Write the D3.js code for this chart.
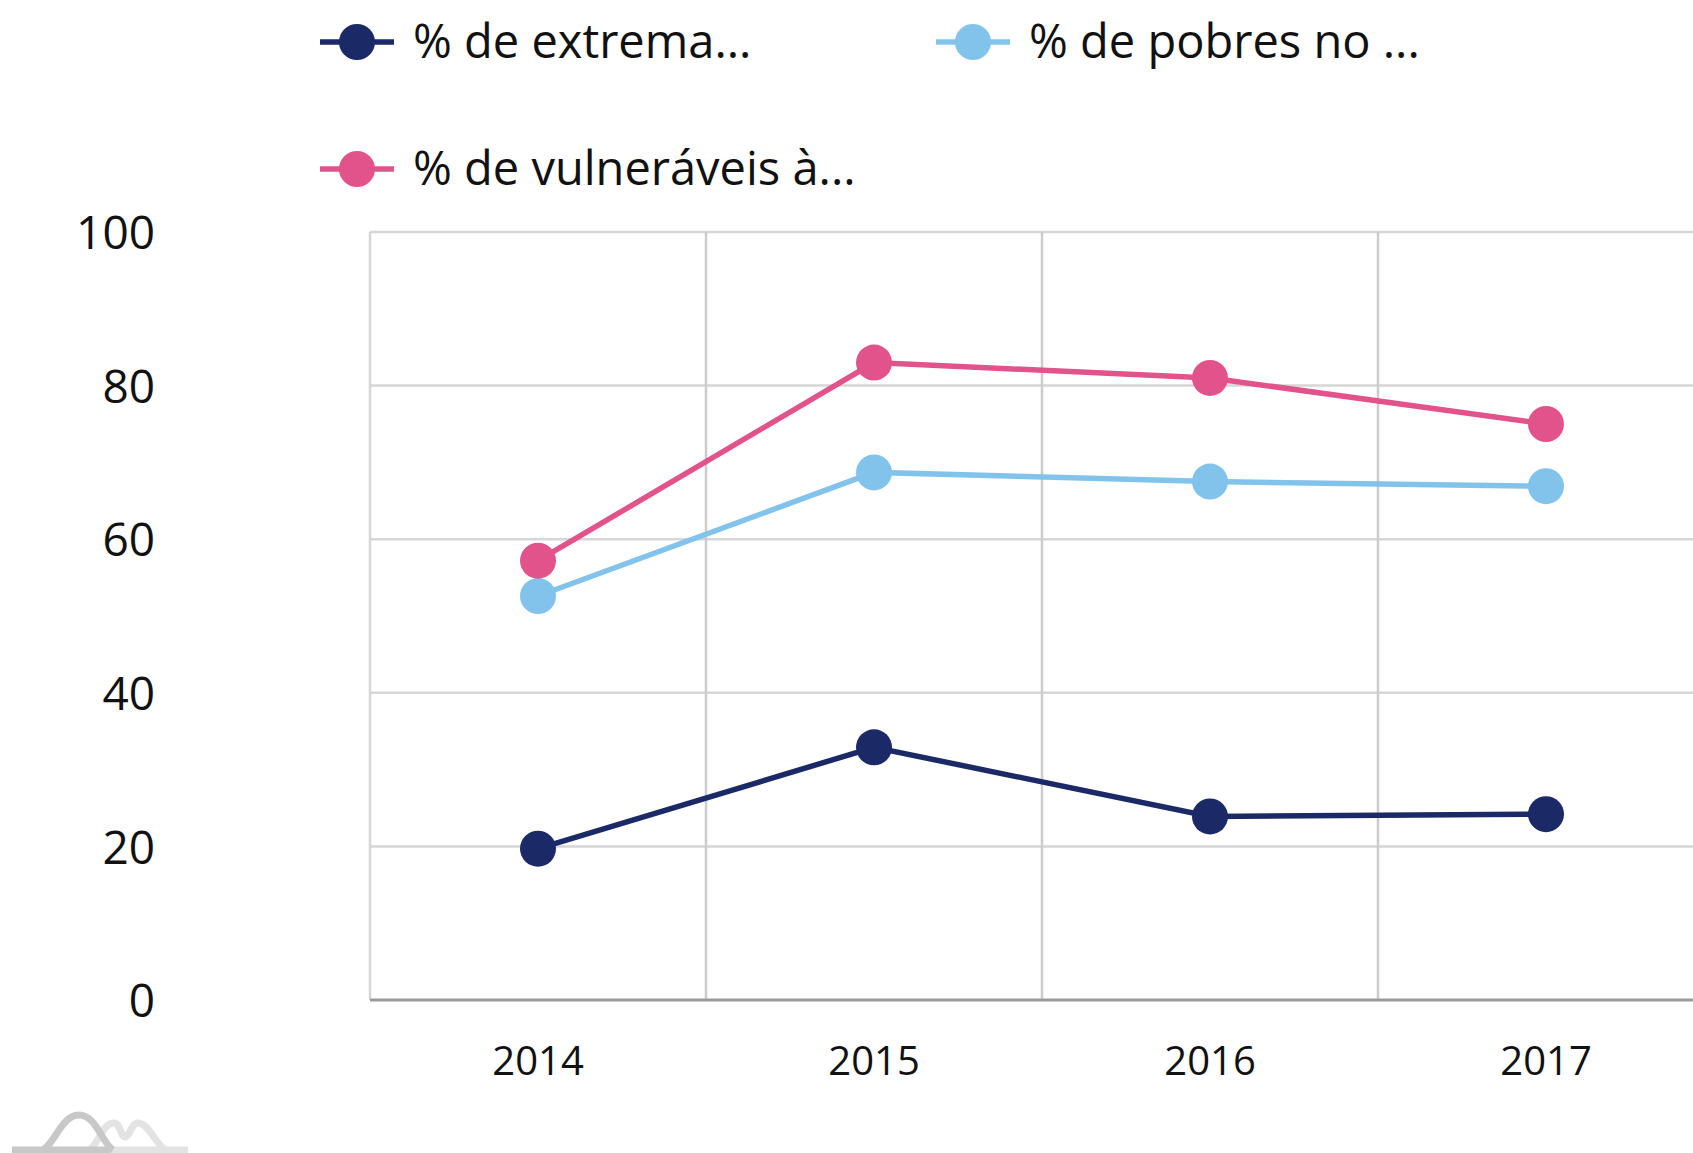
<!DOCTYPE html>
<html>
<head>
<meta charset="utf-8">
<script src="https://cdn.jsdelivr.net/npm/d3@7"></script>
<style>
  html, body { margin: 0; padding: 0; background: #fff; overflow: hidden; }
  text { font-family: 'Open Sans', 'Noto Sans', sans-serif; fill: #111; }
</style>
</head>
<body>
<div class="container"></div>
<script>
const years = ['2014', '2015', '2016', '2017'];
const seriesNames = ['% de extrema...', '% de pobres no ...', '% de vulneráveis à...'];
const extrema = [19.7, 32.9, 23.9, 24.2];
const pobres = [52.6, 68.7, 67.5, 66.9];
const vulneraveis = [57.2, 83.0, 81.0, 75.0];
const yTicks = [0, 20, 40, 60, 80, 100];

const width = 1693;
const height = 1153;
const plotLeft = 370;
const plotTop = 232;
const plotBottom = 1000;
const bandWidth = 336;

const colors = ['#1b2966', '#82c3ec', '#e1538a'];
const series = [extrema, pobres, vulneraveis];

const svg = d3
  .select('.container')
  .append('svg')
  .attr('width', width)
  .attr('height', height);

const xScale = d3
  .scaleBand()
  .domain(years)
  .range([plotLeft, plotLeft + bandWidth * years.length])
  .padding(0);

const yScale = d3.scaleLinear().domain([0, 100]).range([plotBottom, plotTop]);

// grid
svg
  .append('g')
  .selectAll('line')
  .data(yTicks.filter((t) => t > 0))
  .enter()
  .append('line')
  .attr('x1', plotLeft)
  .attr('x2', width)
  .attr('y1', (d) => yScale(d))
  .attr('y2', (d) => yScale(d))
  .attr('stroke', '#d6d6d6')
  .attr('stroke-width', 2.5);

svg
  .append('g')
  .selectAll('line')
  .data(years)
  .enter()
  .append('line')
  .attr('x1', (d) => xScale(d))
  .attr('x2', (d) => xScale(d))
  .attr('y1', plotTop)
  .attr('y2', plotBottom)
  .attr('stroke', (d, i) => (i === 0 ? '#d6d6d6' : '#cccccc'))
  .attr('stroke-width', 2.5);

svg
  .append('line')
  .attr('x1', plotLeft)
  .attr('x2', width)
  .attr('y1', plotBottom)
  .attr('y2', plotBottom)
  .attr('stroke', '#9a9a9a')
  .attr('stroke-width', 3);

// axes
const yAxis = d3.axisLeft(yScale).tickValues(yTicks).tickSize(0).tickPadding(0);
svg
  .append('g')
  .attr('transform', 'translate(155,2)')
  .call(yAxis)
  .call((g) => g.select('.domain').remove())
  .selectAll('text')
  .style('font-size', '46px')
  .attr('fill', '#111');

const xAxis = d3.axisBottom(xScale).tickSize(0).tickPadding(47);
svg
  .append('g')
  .attr('transform', `translate(0,${plotBottom})`)
  .call(xAxis)
  .call((g) => g.select('.domain').remove())
  .selectAll('text')
  .style('font-size', '40px')
  .attr('fill', '#111');

// lines and points
const cx = (i) => xScale(years[i]) + xScale.bandwidth() / 2;
const line = d3
  .line()
  .x((d, i) => cx(i))
  .y((d) => yScale(d));

series.forEach((values, s) => {
  svg
    .append('path')
    .datum(values)
    .attr('d', line)
    .attr('fill', 'none')
    .attr('stroke', colors[s])
    .attr('stroke-width', 5.5);
  svg
    .append('g')
    .selectAll('circle')
    .data(values)
    .enter()
    .append('circle')
    .attr('cx', (d, i) => cx(i))
    .attr('cy', (d) => yScale(d))
    .attr('r', 18)
    .attr('fill', colors[s]);
});

// legend
const legendPos = [
  [320, 42],
  [936, 42],
  [320, 169],
];
seriesNames.forEach((name, i) => {
  const g = svg
    .append('g')
    .attr('transform', `translate(${legendPos[i][0]},${legendPos[i][1]})`);
  g.append('line')
    .attr('x1', 0)
    .attr('x2', 74)
    .attr('stroke', colors[i])
    .attr('stroke-width', 5.5);
  g.append('circle').attr('cx', 37).attr('r', 18).attr('fill', colors[i]);
  g.append('text')
    .attr('x', 93)
    .attr('dy', '0.35em')
    .style('font-size', '47px')
    .text(name);
});

// logo mark bottom left
const logo = svg.append('g').attr('fill', 'none').attr('stroke-width', 7).attr('stroke-linecap', 'butt');
logo
  .append('path')
  .attr('d', 'M110,1150 L188,1150')
  .attr('stroke', '#e3e3e3');
logo
  .append('path')
  .attr('d', 'M90,1150 C100,1140 103,1124 113,1123 C121,1122 120,1137 125,1137 C130,1137 131,1122 139,1123 C148,1124 155,1142 165,1150')
  .attr('stroke', '#e3e3e3');
logo
  .append('path')
  .attr('d', 'M12,1150 L110,1150')
  .attr('stroke', '#c8c8c8');
logo
  .append('path')
  .attr('d', 'M43,1150 C55,1143 62,1115 79,1115 C96,1115 102,1143 113,1150')
  .attr('stroke', '#c8c8c8');
</script>
</body>
</html>
